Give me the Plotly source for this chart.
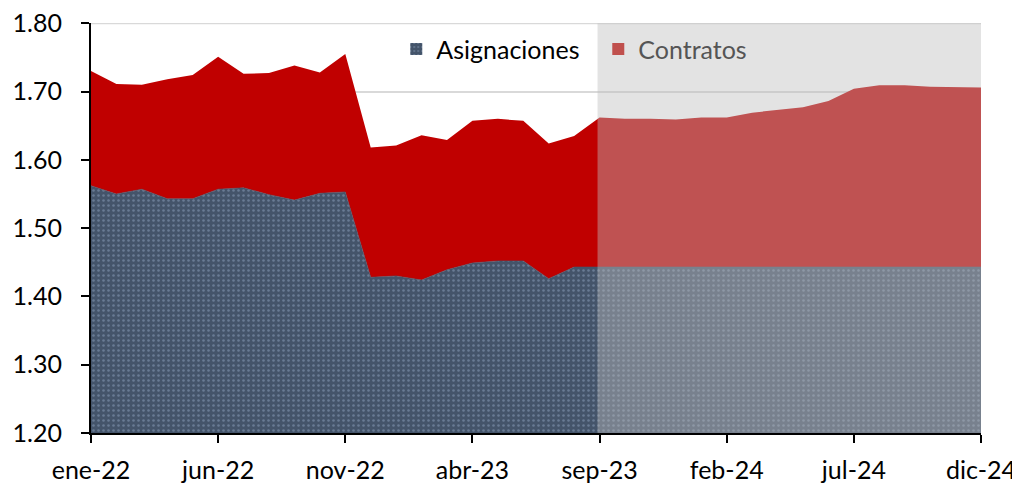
import plotly.graph_objects as go

months = ["ene-22","feb-22","mar-22","abr-22","may-22","jun-22","jul-22","ago-22","sep-22","oct-22","nov-22","dic-22",
          "ene-23","feb-23","mar-23","abr-23","may-23","jun-23","jul-23","ago-23","sep-23","oct-23","nov-23","dic-23",
          "ene-24","feb-24","mar-24","abr-24","may-24","jun-24","jul-24","ago-24","sep-24","oct-24","nov-24","dic-24"]

asignaciones = [1.562, 1.550, 1.557, 1.543, 1.543, 1.557, 1.559, 1.549, 1.541, 1.551, 1.553, 1.428,
                1.430, 1.424, 1.439, 1.449, 1.452, 1.452, 1.426, 1.443, 1.443, 1.443, 1.443, 1.443,
                1.443, 1.443, 1.443, 1.443, 1.443, 1.443, 1.443, 1.443, 1.443, 1.443, 1.443, 1.443]

contratos = [0.168, 0.161, 0.153, 0.175, 0.181, 0.194, 0.167, 0.178, 0.197, 0.177, 0.202, 0.190,
             0.191, 0.212, 0.190, 0.208, 0.208, 0.205, 0.198, 0.192, 0.219, 0.217, 0.217, 0.216,
             0.219, 0.219, 0.226, 0.230, 0.234, 0.243, 0.261, 0.266, 0.266, 0.264, 0.263, 0.263]

tick_labels = ["ene-22", "jun-22", "nov-22", "abr-23", "sep-23", "feb-24", "jul-24", "dic-24"]
y_ticks = [1.20, 1.30, 1.40, 1.50, 1.60, 1.70, 1.80]

proj_start = "sep-23"
proj_end = "dic-24"

NAVY = "#44546A"
DOT = "#8EA1BE"
RED = "#C00000"
GRID = "#D9D9D9"
FONT = "Lato"
FS = 25

x = list(range(len(months)))
tick_vals = [months.index(t) for t in tick_labels]

pattern = dict(shape=".", bgcolor=NAVY, fgcolor=DOT, size=5, solidity=0.2)

fig = go.Figure()
fig.add_trace(go.Scatter(
    x=x, y=asignaciones, stackgroup="one", mode="lines",
    line=dict(width=0.6, color=NAVY), fillcolor=NAVY, fillpattern=pattern,
    showlegend=False, hoverinfo="skip"))
fig.add_trace(go.Scatter(
    x=x, y=contratos, stackgroup="one", mode="lines",
    line=dict(width=0, color=RED), fillcolor=RED,
    showlegend=False, hoverinfo="skip"))

# legend entries
fig.add_trace(go.Bar(
    x=[None], y=[None], name="Asignaciones",
    marker=dict(color=NAVY, line=dict(width=0), pattern=pattern)))
fig.add_trace(go.Bar(
    x=[None], y=[None], name="<span style='color:#555555'>Contratos</span>",
    marker=dict(color="#C0504D", line=dict(width=0))))

# top gridline (at the edge of the range)
fig.add_shape(type="line", xref="paper", yref="y", x0=0, x1=1,
              y0=y_ticks[-1], y1=y_ticks[-1], line=dict(color=GRID, width=2), layer="below")

fig.add_shape(type="rect", xref="x", yref="y",
              x0=months.index(proj_start) - 0.08, x1=months.index(proj_end),
              y0=1.1935, y1=1.80,
              fillcolor="rgba(189,189,189,0.43)", line=dict(width=0), layer="above")

# page body has an 8px margin: figure is drawn from (8, 8)
fig.update_layout(
    width=1012, height=475,
    margin=dict(l=83, r=39, t=15, b=50, autoexpand=False),
    paper_bgcolor="white", plot_bgcolor="white",
    font=dict(family=FONT, size=FS, color="black"),
    showlegend=True,
    legend=dict(orientation="h", x=0.343, xanchor="left", y=0.992, yanchor="top",
                bgcolor="rgba(0,0,0,0)", font=dict(size=FS, family=FONT),
                itemwidth=30, entrywidth=157, entrywidthmode="pixels", traceorder="normal"),
    xaxis=dict(range=[0, 35], tickmode="array", tickvals=tick_vals, ticktext=tick_labels,
               showgrid=False, zeroline=False, showline=True, linecolor="black", linewidth=1.5,
               ticks="outside", ticklen=8, tickwidth=1.5, tickcolor="black", automargin=False,
               ticklabelstandoff=6, ticklabeloverflow="allow",
               tickfont=dict(size=FS, family=FONT, color="black")),
    yaxis=dict(range=[1.2, 1.8003], tickmode="array", tickvals=y_ticks, tickformat=".2f",
               showgrid=True, gridcolor=GRID, gridwidth=1.5, zeroline=False,
               showline=True, linecolor="black", linewidth=2, automargin=False,
               ticks="outside", ticklen=8, tickwidth=1.5, tickcolor="black",
               ticklabelstandoff=14, ticklabeloverflow="allow",
               tickfont=dict(size=FS, family=FONT, color="black")),
)

fig.write_html("out.html")
